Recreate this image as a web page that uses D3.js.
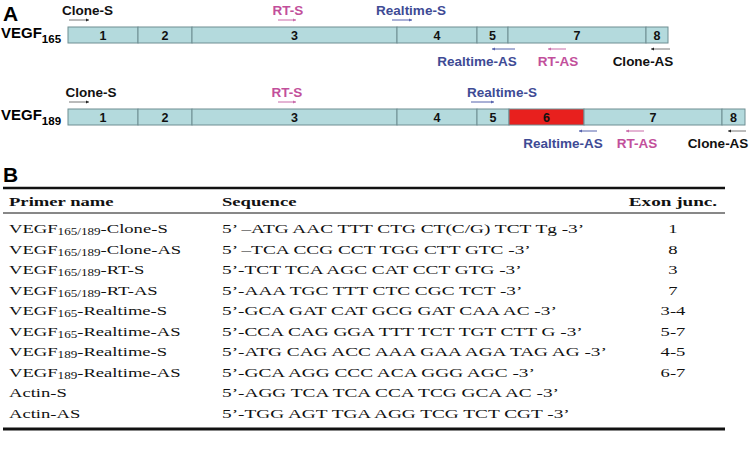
<!DOCTYPE html>
<meta charset="utf-8">
<style>
body { margin: 0; background: #fff; }
.lbl { font-family: "Liberation Sans", Arial, sans-serif; font-weight: bold; }
.tbl { font-family: "Liberation Serif", "Times New Roman", serif; font-size: 13.5px; fill: #111; }
</style>
<body>
<script src="https://cdnjs.cloudflare.com/ajax/libs/d3/7.8.5/d3.min.js"></script>
<script>

// exon structure (widths in relative units)
var exons165 = ["1", "2", "3", "4", "5", "7", "8"];
var widths165 = [70, 54, 205, 80, 31, 138, 22];
var exons189 = ["1", "2", "3", "4", "5", "6", "7", "8"];
var widths189 = [70, 54, 205, 80, 32, 75, 138, 23];

// primers on the transcript
var primerNames = ["Clone-S", "RT-S", "Realtime-S", "Realtime-AS", "RT-AS", "Clone-AS"];
var primerType = ["clone", "rt", "real", "real", "rt", "clone"];
var primerStart165 = [1, 210, 324, 424, 480, 583];
var primerEnd165 = [21, 228, 344, 447, 498, 602];
var labelPos165 = [19.5, 220, 343, 409, 490, 575];
var primerStart189 = [1, 210, 403, 511, 558, 660];
var primerEnd189 = [21, 228, 426, 529, 576, 678];
var labelPos189 = [23, 219, 434, 495, 569, 650];

// table B
var headers = ["Primer name", "Sequence", "Exon junc."];
var rowNames = ["VEGF|165/189|-Clone-S", "VEGF|165/189|-Clone-AS", "VEGF|165/189|-RT-S", "VEGF|165/189|-RT-AS",
  "VEGF|165|-Realtime-S", "VEGF|165|-Realtime-AS", "VEGF|189|-Realtime-S", "VEGF|189|-Realtime-AS",
  "Actin-S", "Actin-AS"];
var sequences = ["5\u2019 \u2013ATG AAC TTT CTG CT(C/G) TCT Tg -3\u2019",
  "5\u2019 \u2013TCA CCG CCT TGG CTT GTC -3\u2019",
  "5\u2019-TCT TCA AGC CAT CCT GTG -3\u2019",
  "5\u2019-AAA TGC TTT CTC CGC TCT -3\u2019",
  "5\u2019-GCA GAT CAT GCG GAT CAA AC -3\u2019",
  "5\u2019-CCA CAG GGA TTT TCT TGT CTT G -3\u2019",
  "5\u2019-ATG CAG ACC AAA GAA AGA TAG AG -3\u2019",
  "5\u2019-GCA AGG CCC ACA GGG AGC -3\u2019",
  "5\u2019-AGG TCA TCA CCA TCG GCA AC -3\u2019",
  "5\u2019-TGG AGT TGA AGG TCG TCT CGT -3\u2019"];
var junctions = ["1", "8", "3", "7", "3-4", "5-7", "4-5", "6-7", "", ""];

var textColor = {clone: "#111", rt: "#c24f9b", real: "#3e4b95"};
var arrowColor = {clone: "#777", rt: "#c96aa9", real: "#5562ad"};

var svg = d3.select("body").append("svg")
    .attr("width", 750)
    .attr("height", 466);

// x scale shared by both transcripts
var x = d3.scaleLinear().domain([0, 682]).range([68, 750]);

svg.append("text").attr("class", "lbl").attr("x", 3).attr("y", 21)
    .style("font-size", "21px").text("A");

function drawTranscript(top, sub, exons, widths, pStart, pEnd, lPos) {
  var h = 16;
  var cum = [0];
  widths.forEach(function(w, i) { cum.push(cum[i] + w); });

  var g = svg.append("g");
  // gene name
  var t = g.append("text").attr("class", "lbl").attr("x", 1).attr("y", top + 11)
      .style("font-size", "15px");
  t.append("tspan").text("VEGF");
  t.append("tspan").attr("dy", 5).style("font-size", "11.5px").text(sub);

  g.selectAll(".exon")
      .data(exons)
    .enter().append("rect")
      .attr("class", "exon")
      .attr("x", function(d, i) { return x(cum[i]); })
      .attr("y", top)
      .attr("width", function(d, i) { return x(cum[i + 1]) - x(cum[i]); })
      .attr("height", h)
      .attr("fill", function(d) { return d == "6" ? "#e8201e" : "#b4dadd"; })
      .attr("stroke", "#6f8e92")
      .attr("stroke-width", 1);

  g.selectAll(".exnum")
      .data(exons)
    .enter().append("text")
      .attr("class", "lbl")
      .attr("x", function(d, i) { return (x(cum[i]) + x(cum[i + 1])) / 2; })
      .attr("y", top + 12.5)
      .attr("text-anchor", "middle")
      .style("font-size", "12.5px")
      .attr("fill", "#111")
      .text(function(d) { return d; });

  // primers
  primerNames.forEach(function(name, i) {
    var sense = name.slice(-2) != "AS";
    var ay = sense ? top - 7 : top + h + 6;
    var ly = sense ? top - 12 : top + h + 23;
    var x0 = x(pStart[i]), x1 = x(pEnd[i]);
    var tip = sense ? x1 : x0;
    var dir = sense ? -1 : 1;
    g.append("line")
        .attr("x1", x0).attr("x2", x1).attr("y1", ay).attr("y2", ay)
        .attr("stroke", arrowColor[primerType[i]]).attr("stroke-width", 1);
    g.append("path")
        .attr("d", "M" + tip + "," + ay + "L" + (tip + dir * 3) + "," + (ay - 1.5) + "L" + (tip + dir * 3) + "," + (ay + 1.5) + "Z")
        .attr("fill", primerType[i] == "clone" ? "#222" : arrowColor[primerType[i]]);
    g.append("text")
        .attr("class", "lbl")
        .attr("x", x(lPos[i]))
        .attr("y", ly)
        .attr("text-anchor", "middle")
        .style("font-size", "13.5px")
        .attr("fill", textColor[primerType[i]])
        .text(name);
  });
}

drawTranscript(27, "165", exons165, widths165, primerStart165, primerEnd165, labelPos165);
drawTranscript(109, "189", exons189, widths189, primerStart189, primerEnd189, labelPos189);

// ---- panel B table ----
svg.append("text").attr("class", "lbl").attr("x", 3).attr("y", 182)
    .style("font-size", "21px").text("B");

var sx = 1.38; // horizontal stretch of table text
var colX = [9, 222, 673];
var y = d3.scaleLinear().domain([0, rowNames.length - 1]).range([233, 417.5]);

svg.append("line").attr("x1", 3).attr("x2", 725).attr("y1", 188).attr("y2", 188)
    .attr("stroke", "#111").attr("stroke-width", 2.5);
svg.append("line").attr("x1", 3).attr("x2", 725).attr("y1", 213).attr("y2", 213)
    .attr("stroke", "#111").attr("stroke-width", 1);
svg.append("line").attr("x1", 3).attr("x2", 725).attr("y1", 429).attr("y2", 429)
    .attr("stroke", "#111").attr("stroke-width", 3);

headers.forEach(function(hd, i) {
  svg.append("text").attr("class", "tbl")
      .attr("transform", "translate(" + colX[i] + ",206) scale(" + (i == 2 ? 1.42 : sx) + ",1)")
      .attr("text-anchor", i == 2 ? "middle" : "start")
      .style("font-weight", "bold")
      .text(hd);
});

rowNames.forEach(function(nm, i) {
  var parts = nm.split("|");
  var t = svg.append("text").attr("class", "tbl")
      .attr("transform", "translate(" + colX[0] + "," + y(i) + ") scale(" + sx + ",1)");
  if (parts.length == 3) {
    t.append("tspan").text(parts[0]);
    t.append("tspan").attr("dy", 2).style("font-size", "9.5px").text(parts[1]);
    t.append("tspan").attr("dy", -2).text(parts[2]);
  } else {
    t.text(nm);
  }
  svg.append("text").attr("class", "tbl")
      .attr("transform", "translate(" + colX[1] + "," + y(i) + ") scale(1.43,1)")
      .text(sequences[i]);
  svg.append("text").attr("class", "tbl")
      .attr("transform", "translate(" + colX[2] + "," + y(i) + ") scale(" + sx + ",1)")
      .attr("text-anchor", "middle")
      .text(junctions[i]);
});

</script>
</body>
